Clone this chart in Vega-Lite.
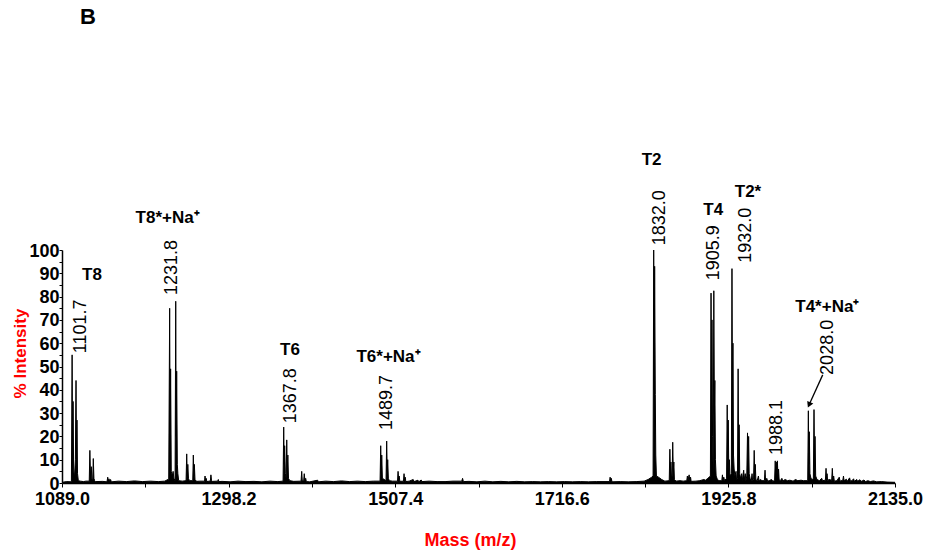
{
  "$schema": "https://vega.github.io/schema/vega-lite/v6.json",
  "autosize": {"type": "none"},
  "padding": {"left": 62, "top": 250, "right": 32, "bottom": 72},
  "width": 833,
  "height": 233,
  "background": "white",
  "config": {
    "view": {"stroke": null},
    "font": "Liberation Sans",
    "axis": {"labelFont": "Liberation Sans", "titleFont": "Liberation Sans", "grid": false, "labelOverlap": false}
  },
  "resolve": {"axis": {"y": "independent"}},
  "datasets": {
    "spec": [
      {"mz":1089,"i":0.3},{"mz":1095,"i":0.6},{"mz":1100.8,"i":0.5},{"mz":1101.7,"i":55},{"mz":1102.3,"i":10},{"mz":1102.9,"i":35},{"mz":1103.6,"i":6},{"mz":1104.6,"i":2},{"mz":1105.8,"i":10},{"mz":1106.6,"i":44},{"mz":1107.2,"i":8},{"mz":1107.8,"i":27},{"mz":1108.5,"i":4},{"mz":1109.5,"i":1},{"mz":1112,"i":0.8},{"mz":1116,"i":0.6},{"mz":1119,"i":0.8},
      {"mz":1123.2,"i":0.8},{"mz":1124,"i":14},{"mz":1124.8,"i":3},{"mz":1125.8,"i":7},{"mz":1126.4,"i":2},{"mz":1127.5,"i":0.8},{"mz":1128.3,"i":10.5},{"mz":1129.1,"i":2},{"mz":1130,"i":1},{"mz":1131,"i":0.6},{"mz":1140,"i":0.7},{"mz":1145.5,"i":0.5},{"mz":1146.4,"i":2.5},{"mz":1147.2,"i":0.8},{"mz":1148,"i":1.8},{"mz":1148.8,"i":0.6},{"mz":1150,"i":1.5},{"mz":1151,"i":0.5},{"mz":1160,"i":0.8},{"mz":1170,"i":0.6},{"mz":1180,"i":0.9},{"mz":1190,"i":0.6},{"mz":1200,"i":0.8},{"mz":1210,"i":0.6},{"mz":1218,"i":0.8},{"mz":1222,"i":1.5},{"mz":1223,"i":0.6},
      {"mz":1224.2,"i":75},{"mz":1224.8,"i":15},{"mz":1225.4,"i":49},{"mz":1226.2,"i":5},{"mz":1227.5,"i":3},{"mz":1228.5,"i":5},{"mz":1229.5,"i":2},{"mz":1231,"i":1},{"mz":1231.8,"i":78},{"mz":1232.4,"i":20},{"mz":1233,"i":48},{"mz":1233.8,"i":8},{"mz":1234.5,"i":4},{"mz":1235.5,"i":1},{"mz":1240,"i":0.8},{"mz":1244.8,"i":1},{"mz":1245.6,"i":12.5},{"mz":1246.3,"i":3},{"mz":1247,"i":8},{"mz":1247.8,"i":2},{"mz":1249,"i":1},{"mz":1253.2,"i":1},{"mz":1253.9,"i":12},{"mz":1254.6,"i":3},{"mz":1255.2,"i":8},{"mz":1256,"i":1.5},{"mz":1258,"i":0.7},{"mz":1262,"i":0.8},{"mz":1268,"i":0.8},{"mz":1268.6,"i":3},{"mz":1269.3,"i":1},{"mz":1270,"i":2},{"mz":1271,"i":0.6},{"mz":1275.3,"i":0.9},{"mz":1276,"i":3.5},{"mz":1276.8,"i":1},{"mz":1278,"i":0.7},{"mz":1284.5,"i":0.8},{"mz":1285.3,"i":1.5},{"mz":1286,"i":0.6},{"mz":1290,"i":0.7},{"mz":1300,"i":0.5},{"mz":1310,"i":0.8},{"mz":1320,"i":0.6},{"mz":1330,"i":0.7},{"mz":1340,"i":0.5},{"mz":1350,"i":0.8},{"mz":1360,"i":0.6},
      {"mz":1366.6,"i":0.8},{"mz":1367.4,"i":24},{"mz":1368,"i":8},{"mz":1368.6,"i":16},{"mz":1369.4,"i":4},{"mz":1370.4,"i":2},{"mz":1371.2,"i":18.5},{"mz":1371.9,"i":5},{"mz":1372.6,"i":12},{"mz":1373.4,"i":2},{"mz":1375,"i":1},{"mz":1380,"i":0.7},{"mz":1389.2,"i":0.8},{"mz":1390,"i":5},{"mz":1390.7,"i":1},{"mz":1392.5,"i":1},{"mz":1393.2,"i":4},{"mz":1394,"i":1},{"mz":1395,"i":2},{"mz":1395.8,"i":0.6},{"mz":1400,"i":0.5},{"mz":1410,"i":1.2},{"mz":1411,"i":0.5},{"mz":1420,"i":0.8},{"mz":1430,"i":0.6},{"mz":1440,"i":0.9},{"mz":1450,"i":0.6},{"mz":1460,"i":0.8},{"mz":1470,"i":0.6},{"mz":1480,"i":0.8},
      {"mz":1488.4,"i":0.8},{"mz":1489.2,"i":16},{"mz":1489.9,"i":4},{"mz":1490.5,"i":12},{"mz":1491.3,"i":2},{"mz":1495.9,"i":1},{"mz":1496.7,"i":18},{"mz":1497.4,"i":5},{"mz":1498,"i":10},{"mz":1498.8,"i":2},{"mz":1500,"i":1},{"mz":1504,"i":0.8},{"mz":1510.3,"i":0.8},{"mz":1511,"i":5},{"mz":1511.7,"i":1.5},{"mz":1512.4,"i":3},{"mz":1513.2,"i":0.7},{"mz":1517.8,"i":0.8},{"mz":1518.5,"i":4},{"mz":1519.2,"i":1},{"mz":1520,"i":2.5},{"mz":1520.8,"i":0.6},{"mz":1525,"i":0.8},{"mz":1530,"i":1.5},{"mz":1531,"i":0.6},{"mz":1536,"i":1.2},{"mz":1537,"i":0.5},{"mz":1540,"i":1.3},{"mz":1541,"i":0.6},{"mz":1550,"i":0.8},{"mz":1560,"i":0.6},{"mz":1570,"i":0.6},{"mz":1580,"i":0.8},{"mz":1591,"i":0.8},{"mz":1592,"i":2},{"mz":1593,"i":0.6},{"mz":1600,"i":0.7},{"mz":1610,"i":0.5},{"mz":1620,"i":0.8},{"mz":1630,"i":0.5},{"mz":1640,"i":0.7},{"mz":1650,"i":0.5},{"mz":1660,"i":0.7},{"mz":1670,"i":0.5},{"mz":1680,"i":0.6},{"mz":1690,"i":0.5},{"mz":1700,"i":0.6},{"mz":1710,"i":0.5},{"mz":1720,"i":0.6},{"mz":1730,"i":0.5},{"mz":1740,"i":0.6},{"mz":1750,"i":0.5},{"mz":1760,"i":0.6},{"mz":1776.5,"i":0.6},{"mz":1777.3,"i":2.5},{"mz":1778,"i":0.8},{"mz":1778.8,"i":2},{"mz":1779.6,"i":0.5},{"mz":1790,"i":0.6},{"mz":1800,"i":0.5},{"mz":1810,"i":0.6},{"mz":1820,"i":0.8},
      {"mz":1825,"i":1.5},{"mz":1829.5,"i":2.5},{"mz":1831.2,"i":3},{"mz":1832.0,"i":100},{"mz":1832.6,"i":40},{"mz":1833.2,"i":93},{"mz":1834,"i":38},{"mz":1834.6,"i":12},{"mz":1835.4,"i":3},{"mz":1838,"i":2.5},{"mz":1842,"i":1.5},{"mz":1846,"i":0.8},{"mz":1851.5,"i":1},{"mz":1852.3,"i":14.5},{"mz":1853,"i":4},{"mz":1853.6,"i":9},{"mz":1854.4,"i":2},{"mz":1855.2,"i":3},{"mz":1855.9,"i":17.5},{"mz":1856.6,"i":5},{"mz":1857.3,"i":9},{"mz":1858,"i":1.5},{"mz":1860,"i":0.8},{"mz":1865,"i":1},{"mz":1869,"i":0.8},{"mz":1873.5,"i":1},{"mz":1874.3,"i":3},{"mz":1875,"i":1},{"mz":1876.5,"i":3.5},{"mz":1877.3,"i":1},{"mz":1878.3,"i":2.5},{"mz":1879,"i":0.7},{"mz":1885,"i":0.8},{"mz":1890,"i":1},{"mz":1895,"i":1.5},{"mz":1897,"i":1.2},{"mz":1900,"i":2},
      {"mz":1903.2,"i":3},{"mz":1904.0,"i":81.5},{"mz":1904.6,"i":30},{"mz":1905.2,"i":70},{"mz":1905.9,"i":20},{"mz":1906.7,"i":4},{"mz":1907.5,"i":82.5},{"mz":1908.2,"i":30},{"mz":1908.8,"i":44},{"mz":1909.5,"i":10},{"mz":1910.4,"i":3},{"mz":1912,"i":1.5},{"mz":1914,"i":1},{"mz":1917.5,"i":1},{"mz":1918.3,"i":3.5},{"mz":1919,"i":1},{"mz":1920,"i":2.5},{"mz":1921,"i":1},{"mz":1923.5,"i":2},{"mz":1924.3,"i":33.5},{"mz":1925,"i":5},{"mz":1925.6,"i":27},{"mz":1926.3,"i":5},{"mz":1927,"i":10},{"mz":1927.8,"i":3},{"mz":1929.5,"i":4},{"mz":1930.3,"i":92},{"mz":1931,"i":25},{"mz":1931.5,"i":60},{"mz":1932.2,"i":12},{"mz":1933,"i":6},{"mz":1934,"i":3},{"mz":1935.4,"i":5},{"mz":1936,"i":1.5},{"mz":1937.2,"i":2},{"mz":1938,"i":49},{"mz":1938.7,"i":10},{"mz":1939.3,"i":25},{"mz":1940,"i":4},{"mz":1941,"i":2},{"mz":1942.5,"i":4},{"mz":1943.2,"i":1},{"mz":1945,"i":5.5},{"mz":1945.8,"i":1.5},{"mz":1947,"i":4},{"mz":1947.8,"i":1},{"mz":1948.9,"i":3},{"mz":1949.8,"i":21.5},{"mz":1950.5,"i":6},{"mz":1951.2,"i":20},{"mz":1951.9,"i":4},{"mz":1953,"i":2},{"mz":1954.5,"i":1},{"mz":1955.5,"i":4},{"mz":1956.2,"i":1},{"mz":1957.4,"i":1.5},{"mz":1958.2,"i":14},{"mz":1958.9,"i":4},{"mz":1959.6,"i":8},{"mz":1960.3,"i":1.5},{"mz":1962,"i":1},{"mz":1963.5,"i":3},{"mz":1964.2,"i":1},{"mz":1966,"i":1.5},{"mz":1968,"i":1},{"mz":1971,"i":1},{"mz":1971.8,"i":5.5},{"mz":1972.5,"i":1},{"mz":1974,"i":2},{"mz":1975,"i":0.8},{"mz":1977,"i":1},{"mz":1980,"i":1.5},{"mz":1981.5,"i":0.8},{"mz":1983.8,"i":1},{"mz":1984.6,"i":9.5},{"mz":1985.2,"i":3},{"mz":1985.9,"i":9},{"mz":1986.6,"i":3},{"mz":1987.3,"i":9.5},{"mz":1988,"i":3},{"mz":1988.8,"i":6},{"mz":1989.5,"i":1.5},{"mz":1991,"i":1},{"mz":1993,"i":2},{"mz":1994,"i":0.8},{"mz":1997,"i":1.5},{"mz":2000,"i":1},{"mz":2003,"i":1.2},{"mz":2007,"i":0.8},{"mz":2010,"i":1.5},{"mz":2013,"i":1},{"mz":2017,"i":1.2},{"mz":2020,"i":1},
      {"mz":2025.4,"i":1},{"mz":2026.2,"i":31},{"mz":2026.8,"i":8},{"mz":2027.4,"i":22},{"mz":2028.2,"i":4},{"mz":2029.5,"i":2},{"mz":2031,"i":1.5},{"mz":2032.5,"i":2},{"mz":2033.3,"i":31.5},{"mz":2034,"i":8},{"mz":2034.6,"i":20},{"mz":2035.4,"i":3},{"mz":2037,"i":1.5},{"mz":2040,"i":1},{"mz":2043,"i":2},{"mz":2044,"i":1},{"mz":2047.6,"i":1.2},{"mz":2048.4,"i":6.3},{"mz":2049,"i":2},{"mz":2049.7,"i":4},{"mz":2050.4,"i":1},{"mz":2052,"i":1.5},{"mz":2055.5,"i":1.2},{"mz":2056.3,"i":6.3},{"mz":2057,"i":1.5},{"mz":2058,"i":3},{"mz":2058.8,"i":0.8},{"mz":2062,"i":1},{"mz":2065,"i":2.5},{"mz":2066,"i":0.8},{"mz":2069.5,"i":1.2},{"mz":2070.3,"i":3},{"mz":2071,"i":1},{"mz":2074,"i":1.6},{"mz":2075,"i":0.7},{"mz":2078,"i":2.2},{"mz":2079,"i":0.8},{"mz":2081,"i":1},{"mz":2083,"i":1.8},{"mz":2084,"i":0.7},{"mz":2087,"i":1.5},{"mz":2088,"i":0.7},{"mz":2091,"i":1.4},{"mz":2093,"i":0.7},{"mz":2096,"i":1.3},{"mz":2098,"i":0.6},{"mz":2101,"i":1},{"mz":2104,"i":0.6},{"mz":2108,"i":0.9},{"mz":2112,"i":0.5},{"mz":2118,"i":0.6},{"mz":2125,"i":0.4},{"mz":2135,"i":0.3}
    ],
    "nums": [
      {"mz":1112.9,"i":55.7,"t":"1101.7"},
      {"mz":1226.7,"i":80.7,"t":"1231.8"},
      {"mz":1376.2,"i":25.6,"t":"1367.8"},
      {"mz":1496.7,"i":22.7,"t":"1489.7"},
      {"mz":1839.9,"i":102,"t":"1832.0"},
      {"mz":1907.7,"i":87,"t":"1905.9"},
      {"mz":1948,"i":94.5,"t":"1932.0"},
      {"mz":1987.2,"i":12,"t":"1988.1"},
      {"mz":2051.3,"i":46.4,"t":"2028.0"}
    ],
    "names": [
      {"mz":1126.7,"i":89.3,"t":"T8"},
      {"mz":1221.7,"i":113.7,"t":"T8*+Na⁺"},
      {"mz":1375.3,"i":57,"t":"T6"},
      {"mz":1499,"i":54.2,"t":"T6*+Na⁺"},
      {"mz":1829.4,"i":138.6,"t":"T2"},
      {"mz":1906.8,"i":117,"t":"T4"},
      {"mz":1950.4,"i":125,"t":"T2*"},
      {"mz":2050,"i":75.7,"t":"T4*+Na⁺"}
    ],
    "arrow": [{"mz":2044.2,"i":46.4,"mz2":2027.6,"i2":33.9}],
    "head": [{"mz":2027.6,"i":33.9}],
    "panel": [{"mz":1121.6,"i":200,"t":"B"}]
  },
  "layer": [
    {
      "data": {"name": "spec"},
      "mark": {"type": "area", "color": "black", "opacity": 1, "clip": true},
      "encoding": {
        "x": {"field": "mz", "type": "quantitative",
          "scale": {"domain": [1089, 2135], "nice": false, "zero": false},
          "axis": {"title": "Mass (m/z)", "titleColor": "#ff0000", "titleFontSize": 18, "titleFontWeight": "bold",
            "titleX": 408, "titleY": 62, "titleBaseline": "alphabetic", "titleAlign": "center",
            "values": [1089, 1193.6, 1298.2, 1402.8, 1507.4, 1612, 1716.6, 1821.2, 1925.8, 2030.4, 2135],
            "labelExpr": "indexof([1089, 1298.2, 1507.4, 1716.6, 1925.8, 2135], datum.value) >= 0 ? format(datum.value, '.1f') : ''",
            "labelFontSize": 18, "labelFontWeight": "bold", "labelColor": "black", "labelFlush": false, "labelOverlap": false,
            "labelPadding": 3, "labelBaseline": "top",
            "tickSize": 4, "tickColor": "black", "tickWidth": 1, "domainColor": "black", "domainWidth": 1.5}
        },
        "y": {"field": "i", "type": "quantitative",
          "scale": {"domain": [0, 100], "nice": false},
          "axis": {"orient": "left", "title": null, "labels": false,
            "values": [0,5,10,15,20,25,30,35,40,45,50,55,60,65,70,75,80,85,90,95,100],
            "tickSize": 3, "tickColor": "black", "tickWidth": 1, "domainColor": "black", "domainWidth": 1.5}
        }
      }
    },
    {
      "data": {"name": "spec"},
      "mark": {"type": "line", "color": "black", "strokeWidth": 1, "clip": true},
      "encoding": {
        "x": {"field": "mz", "type": "quantitative"},
        "y": {"field": "i", "type": "quantitative",
          "axis": {"orient": "left", "title": "% Intensity", "titleColor": "#ff0000", "titleFontSize": 17, "titleFontWeight": "bold",
            "titleX": -42, "titleY": 103, "titleAngle": 270, "titleBaseline": "middle", "titleAlign": "center",
            "values": [0,10,20,30,40,50,60,70,80,90,100],
            "labelFontSize": 18, "labelFontWeight": "bold", "labelColor": "black", "labelFlush": false, "labelOverlap": false,
            "labelPadding": 3, "labelOffset": 1, "ticks": false, "domain": false}
        }
      }
    },
    {
      "data": {"name": "nums"},
      "mark": {"type": "text", "angle": 270, "align": "left", "baseline": "middle", "fontSize": 18, "font": "Liberation Sans", "color": "black"},
      "encoding": {
        "x": {"field": "mz", "type": "quantitative"},
        "y": {"field": "i", "type": "quantitative", "axis": null},
        "text": {"field": "t"}
      }
    },
    {
      "data": {"name": "names"},
      "mark": {"type": "text", "align": "center", "baseline": "middle", "fontSize": 17, "fontWeight": "bold", "font": "Liberation Sans", "color": "black"},
      "encoding": {
        "x": {"field": "mz", "type": "quantitative"},
        "y": {"field": "i", "type": "quantitative", "axis": null},
        "text": {"field": "t"}
      }
    },
    {
      "data": {"name": "arrow"},
      "mark": {"type": "rule", "color": "black", "strokeWidth": 1.3},
      "encoding": {
        "x": {"field": "mz", "type": "quantitative"},
        "y": {"field": "i", "type": "quantitative", "axis": null},
        "x2": {"field": "mz2"},
        "y2": {"field": "i2"}
      }
    },
    {
      "data": {"name": "head"},
      "mark": {"type": "point", "shape": "triangle", "filled": true, "size": 45, "angle": 204, "color": "black", "opacity": 1},
      "encoding": {
        "x": {"field": "mz", "type": "quantitative"},
        "y": {"field": "i", "type": "quantitative", "axis": null}
      }
    },
    {
      "data": {"name": "panel"},
      "mark": {"type": "text", "align": "center", "baseline": "middle", "fontSize": 22, "fontWeight": "bold", "font": "Liberation Sans", "color": "black"},
      "encoding": {
        "x": {"field": "mz", "type": "quantitative"},
        "y": {"field": "i", "type": "quantitative", "axis": null},
        "text": {"field": "t"}
      }
    }
  ]
}
